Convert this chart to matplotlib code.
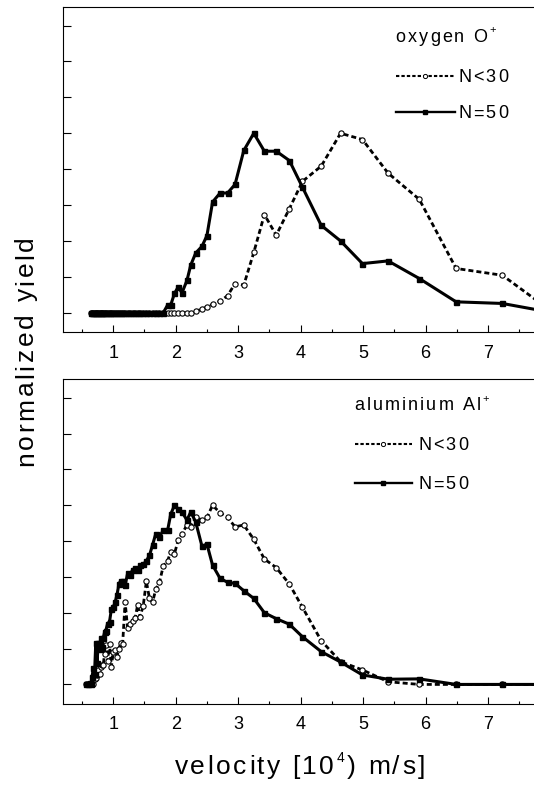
import matplotlib
matplotlib.use("Agg")
import matplotlib.pyplot as plt
from matplotlib.font_manager import FontProperties, findfont
from matplotlib.ft2font import FT2Font
from matplotlib.lines import Line2D
from matplotlib.transforms import ScaledTranslation

FONT = "Liberation Sans"
plt.rcParams["font.family"] = FONT

W, H = 534, 785

# velocity bins, 10^4 m/s
velocity = [0.57, 0.60, 0.62, 0.64, 0.66, 0.68, 0.70, 0.72, 0.74, 0.76,
            0.78, 0.80, 0.82, 0.84, 0.86, 0.88, 0.91, 0.94, 0.97, 1.00,
            1.03, 1.06, 1.09, 1.12, 1.15, 1.19, 1.23, 1.27, 1.31, 1.35,
            1.39, 1.43, 1.48, 1.53, 1.58, 1.63, 1.68, 1.74, 1.80, 1.87,
            1.92, 1.98, 2.04, 2.10, 2.18, 2.24, 2.32, 2.42, 2.50, 2.59,
            2.71, 2.83, 2.95, 3.09, 3.25, 3.42, 3.61, 3.82, 4.03, 4.33,
            4.64, 4.99, 5.40, 5.90, 6.49, 7.23, 8.05]

# oxygen O+ (starts at the 0.64 bin)
oxygen_v = velocity[3:]
oxygen_n30 = [0, 0, 0, 0, 0, 0, 0, 0, 0, 0, 0, 0,
              0, 0, 0, 0, 0, 0, 0, 0, 0, 0, 0, 0,
              0, 0, 0, 0, 0, 0, 0, 0, 0, 0, 0, 0,
              0, 0, 0, 0, 0, 0, 0,
              0.009, 0.02, 0.033, 0.047, 0.065, 0.095, 0.163, 0.154,
              0.336, 0.547, 0.432, 0.58, 0.732, 0.817, 1.0, 0.965,
              0.778, 0.632, 0.247, 0.209, 0.0]
oxygen_n50 = [0, 0, 0, 0, 0, 0, 0, 0, 0, 0, 0, 0,
              0, 0, 0, 0, 0, 0, 0, 0, 0, 0, 0, 0,
              0, 0, 0, 0, 0, 0, 0, 0, 0, 0, 0, 0,
              0.043, 0.043, 0.108, 0.144, 0.111, 0.18, 0.265,
              0.333, 0.37, 0.43, 0.617, 0.667, 0.667, 0.715, 0.904,
              1.0, 0.9, 0.9, 0.848, 0.699, 0.487, 0.40, 0.274,
              0.289, 0.191, 0.061, 0.052, 0.0]

# aluminium Al+
alu_v = velocity
alu_n30 = [0.0, 0.0, 0.0, 0.0, 0.01, 0.0, 0.03, 0.035, 0.05, 0.08,
           0.06, 0.10, 0.11, 0.11, 0.17, 0.22, 0.13, 0.225, 0.10, 0.18,
           0.19, 0.155, 0.20, 0.23, 0.226, 0.46, 0.313, 0.34, 0.355, 0.37,
           0.443, 0.378, 0.44, 0.575, 0.48, 0.46, 0.53, 0.57, 0.66, 0.69,
           0.74, 0.73, 0.805, 0.84, 0.89, 0.88, 0.935, 0.917, 0.932, 1.0,
           0.958, 0.932, 0.88, 0.89, 0.81, 0.70, 0.652, 0.56, 0.43, 0.244,
           0.127, 0.081, 0.015, 0.0, 0.0, 0.0, 0.0]
alu_n50 = [0.0, 0.0, 0.01, 0.0, 0.04, 0.09, 0.06, 0.23, 0.12, 0.23,
           0.20, 0.26, 0.21, 0.26, 0.29, 0.30, 0.34, 0.35, 0.42, 0.43,
           0.46, 0.50, 0.56, 0.58, 0.58, 0.555, 0.62, 0.61, 0.64, 0.65,
           0.64, 0.665, 0.67, 0.69, 0.72, 0.78, 0.84, 0.825, 0.86, 0.86,
           0.95, 1.0, 0.98, 0.963, 0.917, 0.963, 0.907, 0.772, 0.783, 0.666,
           0.592, 0.57, 0.564, 0.523, 0.48, 0.40, 0.367, 0.336, 0.266, 0.183,
           0.125, 0.053, 0.029, 0.031, 0.0, 0.0, 0.0]

xticks = [1, 2, 3, 4, 5, 6, 7]
xminor = [0.5, 1.5, 2.5, 3.5, 4.5, 5.5, 6.5, 7.5]
yticks = [0, 0.2, 0.4, 0.6, 0.8, 1.0, 1.2, 1.4, 1.6]

fig = plt.figure(figsize=(W / 100, H / 100), dpi=100)
_ft = FT2Font(findfont(FontProperties(family=FONT)))


def fxy(x, y):
    # pixel position from the top-left corner -> figure fraction
    return x / W, 1 - y / H


def spaced(x, y, parts, track=2.0, rotation=0, center=False):
    # letter-spaced text; parts = (string, size, rise in pt), y is the baseline
    glyphs = []
    for s, size, rise in parts:
        _ft.set_size(size, 72)
        for ch in s:
            adv = _ft.load_char(ord(ch)).linearHoriAdvance / 65536
            glyphs.append((ch, size, rise, adv))
    total = sum(g[3] for g in glyphs) + track * (len(glyphs) - 1)
    pos = -total / 2 if center else 0.0
    fx, fy = fxy(x, y)
    for ch, size, rise, adv in glyphs:
        if rotation == 90:
            dx, dy = -rise, pos
        else:
            dx, dy = pos, rise
        tr = fig.transFigure + ScaledTranslation(dx / 72, dy / 72, fig.dpi_scale_trans)
        fig.text(fx, fy, ch, transform=tr, fontsize=size, rotation=rotation,
                 rotation_mode="anchor", ha="left", va="baseline")
        pos += adv + track


def panel(top_px, bottom_px, v, n30, n50):
    x0, y0 = fxy(63.3, bottom_px)
    ax = fig.add_axes([x0, y0, 1 - x0, (bottom_px - top_px) / H])
    ax.plot(v, n30, color="black", lw=2.0, dashes=(1.8, 1.1),
            marker="o", ms=3.8, mfc="white", mec="black", mew=0.8)
    ax.plot(v, n50, color="black", lw=2.2, marker="s", ms=3.6)
    ax.set_xlim(0.2, 7.737)
    ax.set_ylim(-0.107, 1.705)
    ax.set_xticks(xticks)
    ax.set_xticks(xminor, minor=True)
    ax.set_yticks(yticks)
    ax.tick_params(axis="x", which="major", direction="in", length=4.8,
                   width=0.8, labelsize=13, pad=9)
    ax.tick_params(axis="x", which="minor", direction="in", length=2.4, width=0.8)
    ax.tick_params(axis="y", direction="in", length=5.5, width=0.8, labelleft=False)
    ax.spines["right"].set_visible(False)
    for side in ("left", "top", "bottom"):
        ax.spines[side].set_linewidth(0.8)
    return ax


def legend(x0, x1, xt, y_title, y1, y2, title):
    spaced(x0, y_title, title, track=1.5)
    for y, dashed, label in ((y1, True, "N<30"), (y2, False, "N=50")):
        (lx0, ly), (lx1, _) = fxy(x0, y), fxy(x1, y)
        kw = dict(color="black", transform=fig.transFigure, markevery=[1])
        if dashed:
            ln = Line2D([lx0, (lx0 + lx1) / 2, lx1], [ly, ly, ly], lw=1.5,
                        dashes=(1.6, 1.0), marker="o", ms=3.0, mfc="white",
                        mec="black", mew=0.7, **kw)
        else:
            ln = Line2D([lx0, (lx0 + lx1) / 2, lx1], [ly, ly, ly], lw=1.7,
                        marker="s", ms=3.0, **kw)
        fig.add_artist(ln)
        spaced(xt, y + 6.4, [(label, 13, 0)], track=1.5)


panel(6.7, 332, oxygen_v, oxygen_n30, oxygen_n50)
panel(379, 703.6, alu_v, alu_n30, alu_n50)

legend(395.5, 455, 458, 41.5, 75.5, 112, [("oxygen O", 13, 0), ("+", 8, 6)])
legend(354.5, 412, 418, 410, 444, 483, [("aluminium Al", 13, 0), ("+", 8, 6)])

spaced(300, 774, [("velocity [10", 19, 0), ("4", 10, 9), (") m/s]", 19, 0)],
       track=1.8, center=True)
spaced(33.3, 351, [("normalized yield", 19, 0)], track=1.9, rotation=90, center=True)

fig.savefig("out.png", dpi=100)
